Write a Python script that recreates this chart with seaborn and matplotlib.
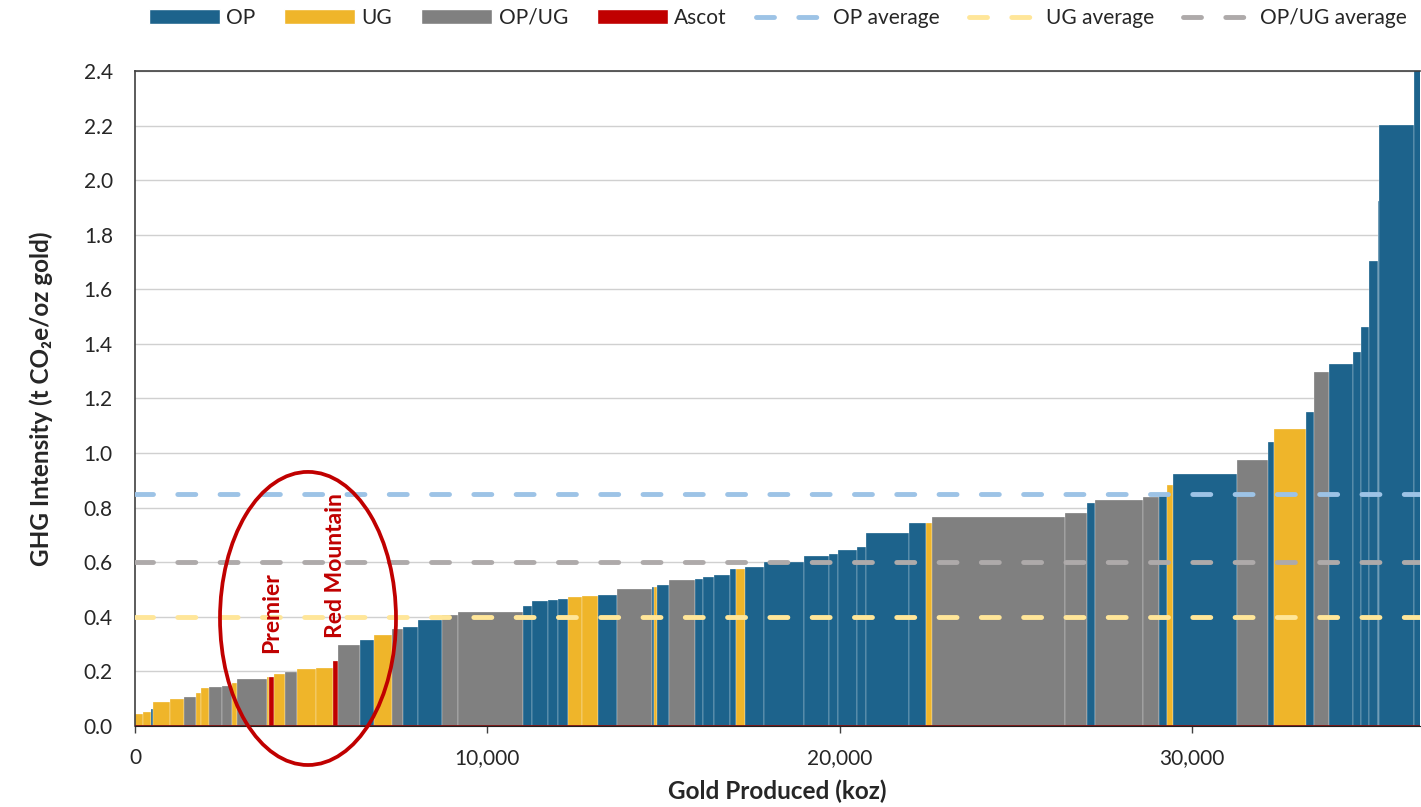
import matplotlib
matplotlib.use("Agg")
import matplotlib.pyplot as plt
from matplotlib.patches import Patch, Ellipse
from matplotlib.lines import Line2D
from matplotlib.ticker import FuncFormatter
import numpy as np
import pandas as pd
import seaborn as sns

# mines sorted by GHG intensity
mine_type = ["UG", "UG", "OP", "UG", "UG", "OP/UG", "UG", "UG", "OP/UG", "OP/UG",
             "UG", "OP/UG", "UG", "Ascot", "UG", "OP/UG", "UG", "UG", "Ascot", "OP/UG",
             "OP", "UG", "OP/UG", "OP", "OP", "OP/UG", "OP/UG", "OP", "OP", "OP",
             "OP", "UG", "UG", "OP", "OP/UG", "OP", "UG", "OP", "OP/UG", "OP",
             "OP", "OP", "OP", "UG", "OP", "OP", "OP", "OP", "OP", "OP",
             "OP", "OP", "UG", "OP/UG", "OP/UG", "OP", "OP/UG", "OP/UG", "OP", "UG",
             "OP", "OP/UG", "OP", "UG", "OP", "OP/UG", "OP", "OP", "OP", "OP",
             "OP", "OP", "OP"]
gold_koz = [227, 227, 57, 482, 397, 340, 142, 227, 369, 284,
            142, 851, 57, 142, 312, 340, 539, 482, 142, 624,
            397, 511, 312, 426, 681, 454, 1845, 255, 454, 284,
            284, 397, 454, 539, 993, 57, 85, 340, 738, 227,
            312, 454, 170, 255, 539, 1135, 710, 255, 539, 255,
            1220, 482, 170, 3775, 624, 227, 1362, 454, 227, 170,
            1816, 880, 170, 908, 227, 426, 681, 227, 227, 255,
            40, 993, 200]
ghg_intensity = [0.045, 0.052, 0.062, 0.089, 0.100, 0.105, 0.122, 0.139, 0.144, 0.148,
                 0.159, 0.172, 0.178, 0.181, 0.190, 0.197, 0.208, 0.212, 0.238, 0.297,
                 0.315, 0.333, 0.354, 0.364, 0.388, 0.407, 0.417, 0.441, 0.459, 0.462,
                 0.467, 0.472, 0.475, 0.479, 0.503, 0.508, 0.510, 0.515, 0.535, 0.539,
                 0.545, 0.553, 0.574, 0.576, 0.581, 0.600, 0.624, 0.630, 0.644, 0.655,
                 0.708, 0.743, 0.745, 0.765, 0.780, 0.818, 0.828, 0.839, 0.855, 0.883,
                 0.922, 0.973, 1.042, 1.090, 1.150, 1.296, 1.325, 1.372, 1.462, 1.703,
                 1.924, 2.204, 2.600]
ascot_names = ["Premier", "Red Mountain"]

avg_labels = ["OP average", "UG average", "OP/UG average"]
avg_values = [0.85, 0.40, 0.60]

bar_colors = {"OP": "#1d638c", "UG": "#efb52a", "OP/UG": "#808080", "Ascot": "#c00000"}
avg_colors = ["#9dc3e6", "#ffe699", "#aeaaaa"]

sns.set_style("white")
plt.rcParams["font.family"] = ["Lato", "DejaVu Sans"]

df = pd.DataFrame({"type": mine_type, "koz": gold_koz, "ghg": ghg_intensity})
df["left"] = df["koz"].cumsum() - df["koz"]

fig = plt.figure(figsize=(14.21, 8.07), dpi=100)
ax = fig.add_axes([0.095, 0.1004, 0.9043, 0.8116])

ax.bar(df["left"], df["ghg"], width=df["koz"], align="edge",
       color=[bar_colors[t] for t in df["type"]],
       edgecolor="white", linewidth=0.2, zorder=2)

# average lines
for val, col in zip(avg_values, avg_colors):
    ax.axhline(val, color=col, lw=3.5, ls=(0, (3.7, 5.0)),
               dash_capstyle="round", zorder=3)

ax.axhline(0, color="#7b1010", lw=2, zorder=4)

# labels for the Ascot mines
asc = df[df["type"] == "Ascot"]
for name, (_, row) in zip(ascot_names, asc.iterrows()):
    ax.text(row["left"] + row["koz"] / 2, row["ghg"] + 0.085, name,
            rotation=90, ha="center", va="bottom", color="#c00000",
            fontsize=16.5, fontweight="bold", zorder=5)

ell = Ellipse((4910, 0.394), width=4995, height=1.074, fill=False,
              edgecolor="#c00000", lw=2.7, clip_on=False, zorder=6)
ax.add_patch(ell)

ax.set_xlim(0, 36470)
ax.set_ylim(0, 2.4)
ax.set_yticks(np.arange(0, 2.41, 0.2))
ax.set_xticks([0, 10000, 20000, 30000])
ax.xaxis.set_major_formatter(FuncFormatter(lambda v, p: f"{int(v):,}"))
ax.yaxis.set_major_formatter(FuncFormatter(lambda v, p: f"{v:.1f}"))
ax.grid(axis="y", color="#d0d0d0", lw=1, zorder=0)
ax.set_axisbelow(True)

ax.tick_params(axis="x", direction="out", length=5, width=1, pad=11,
               labelsize=15, color="#404040", bottom=True)
ax.tick_params(axis="y", length=0, pad=16, labelsize=15)

for s in ["left", "top"]:
    ax.spines[s].set_color("#404040")
    ax.spines[s].set_linewidth(1.2)
ax.spines["bottom"].set_color("#202020")
ax.spines["right"].set_visible(False)

ax.set_xlabel("Gold Produced (koz)", fontsize=17.5, fontweight="bold", labelpad=8)
ax.set_ylabel("GHG Intensity (t CO\u2082e/oz gold)", fontsize=17.5,
              fontweight="bold", labelpad=22)

handles = [Patch(facecolor=bar_colors[k]) for k in ["OP", "UG", "OP/UG", "Ascot"]]
handles += [Line2D([0], [0], color=c, lw=3.5, ls=(0, (3.7, 5.0)),
                   dash_capstyle="round") for c in avg_colors]
labels = ["OP", "UG", "OP/UG", "Ascot"] + avg_labels
fig.legend(handles, labels, loc="center", bbox_to_anchor=(778 / 1421, 1 - 18 / 807),
           ncol=7, frameon=False, fontsize=15, handlelength=3.4, handleheight=0.7,
           handletextpad=0.3, columnspacing=1.4)

fig.savefig("out.png", dpi=100)
